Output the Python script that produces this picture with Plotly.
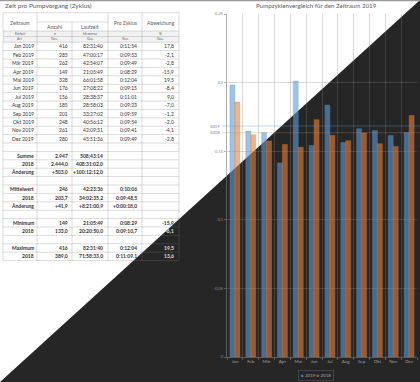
import plotly.graph_objects as go

W, H = 420, 382
FONT = "Lato"

# ---------------- data ----------------
months = ['Jan', 'Feb', 'Mär', 'Apr', 'Mai', 'Jun', 'Jul', 'Aug', 'Sep', 'Okt', 'Nov', 'Dez']
zeitraum = [m + ' 2019' for m in months]
anzahl = ['416', '285', '262', '149', '328', '176', '156', '185', '201', '248', '261', '280']
laufzeit = ['82:31:40', '47:00:17', '42:54:07', '21:05:49', '66:01:58', '27:08:22',
            '28:38:37', '28:58:03', '33:27:02', '40:56:12', '42:09:31', '45:51:36']
pro_zyklus = ['0:11:54', '0:09:53', '0:09:49', '0:08:29', '0:12:04', '0:09:15',
              '0:11:01', '0:09:23', '0:09:59', '0:09:54', '0:09:41', '0:09:49']
abweichung = ['17,8', '-2,1', '-2,8', '-15,9', '19,5', '-8,4', '9,0', '-7,0', '-1,2', '-2,0', '-4,1', '-2,8']

sum_labels = ['', 'Summe', '2018', 'Änderung', '', 'Mittelwert', '2018', 'Änderung', '',
              'Minimum', '2018', '', 'Maximum', '2018']
sum_anzahl = ['', '2.947', '2.444,0', '+503,0', '', '246', '203,7', '+41,9', '',
              '149', '133,0', '', '416', '389,0']
sum_laufzeit = ['', '508:43:14', '408:31:02,0', '+100:12:12,0', '', '42:23:36', '34:02:35,2',
                '+8:21:00,9', '', '21:05:49', '20:20:50,0', '', '82:31:40', '71:58:33,0']
sum_pro_zyklus = ['', '', '', '', '', '0:10:06', '0:09:48,5', '+0:00:18,0', '',
                  '0:08:29', '0:09:10,7', '', '0:12:04', '0:11:09,1']
sum_abweichung = ['', '', '', '', '', '', '', '', '', '-15,9', '-6,1', '', '19,5', '13,6']

header_top = ['Zeitraum', 'Anzahl', 'Laufzeit', 'Pro Zyklus', 'Abweichung']
unit_row = ['Einheit', 'n', 'hh:mm:ss', '', '%']
art_row = ['Art', 'Ges.', 'Ges.', 'Ges.', 'Ges.']

# chart series (hours per cycle)
chart_2018 = [0.1859, 0.162, 0.1575, 0.1548, 0.1529, 0.173, 0.1614, 0.1577, 0.1633, 0.1555, 0.1535, 0.176]
mean_2019_txt = '0:10:06'
mean_2018_txt = '0:09:48,5'


def to_hours(s):
    h, m, sec = s.split(':')
    return int(h) + int(m) / 60 + float(sec.replace(',', '.')) / 3600


chart_2019 = [to_hours(s) for s in pro_zyklus]
mean_2019 = to_hours(mean_2019_txt)
mean_2018 = to_hours(mean_2018_txt)

# ---------------- helpers ----------------
def px(x):
    return x / W


def py(y):
    return 1 - y / H


def is_dark(x, y):
    return x / W + y / H > 1


DARK_BG = '#262626'
LINE = 'rgba(128,128,128,0.35)'

shapes = []
annotations = []

# dark lower-right triangle
shapes.append(dict(type='path', xref='paper', yref='paper', path='M 1 1 L 1 0 L 0 0 Z',
                   fillcolor=DARK_BG, line=dict(width=0), layer='below'))

# ---------------- table ----------------
col_edges = [3, 37, 72, 108, 142, 179]
col_right = [36, 70, 105, 139, 176]
t_top, h_mid, h_bot, u_bot, d_top = 12.7, 22, 31, 36.5, 42.2
row_h = 8.4
n_rows = len(zeitraum) + len(sum_labels)
t_bot = d_top + row_h * n_rows

shapes.append(dict(type='rect', xref='paper', yref='paper', x0=px(col_edges[0]), x1=px(col_edges[-1]),
                   y0=py(h_bot), y1=py(d_top), fillcolor='#f2f2f2', line=dict(width=0), layer='below'))


def hline(y, x0, x1):
    shapes.append(dict(type='line', xref='paper', yref='paper', x0=px(x0), x1=px(x1), y0=py(y), y1=py(y),
                       line=dict(color=LINE, width=0.8), layer='below'))


def vline(x, y0, y1):
    shapes.append(dict(type='line', xref='paper', yref='paper', x0=px(x), x1=px(x), y0=py(y0), y1=py(y1),
                       line=dict(color=LINE, width=0.8), layer='below'))


for i, xe in enumerate(col_edges):
    vline(xe, h_mid if xe == 72 else t_top, t_bot)
hline(t_top, col_edges[0], col_edges[-1])
hline(h_mid, 37, 108)
for yy in [h_bot, u_bot]:
    hline(yy, col_edges[0], col_edges[-1])
for k in range(n_rows + 1):
    hline(d_top + row_h * k, col_edges[0], col_edges[-1])


def txt(x, y, s, size=5, color='#404040', anchor='center', bold=False):
    if bold:
        s = '<b>' + s + '</b>'
    annotations.append(dict(x=px(x), y=py(y), xref='paper', yref='paper', text=s, showarrow=False,
                            xanchor=anchor, yanchor='middle', font=dict(family=FONT, size=size, color=color)))


# titles
txt(3, 5.5, 'Zeit pro Pumpvorgang (Zyklus)', size=6.5, color='#595959', anchor='left')
txt(316, 5.5, 'Pumpzyklenvergleich für den Zeitraum 2019', size=6.2, color='#595959')

# header
HC = '#595959'
txt(20, 22.5, header_top[0], color=HC)
txt(54.5, 27, header_top[1], color=HC)
txt(90, 27, header_top[2], color=HC)
txt(125, 22.5, header_top[3], color=HC)
txt(160.5, 22.5, header_top[4], color=HC)
centers = [(col_edges[i] + col_edges[i + 1]) / 2 for i in range(5)]
for i in range(5):
    txt(centers[i], (h_bot + u_bot) / 2, unit_row[i], size=3.4, color=HC)
    txt(centers[i], (u_bot + d_top) / 2, art_row[i], size=3.4, color=HC)

# body rows
rows = []
for i in range(len(zeitraum)):
    rows.append(([zeitraum[i], anzahl[i], laufzeit[i], pro_zyklus[i], abweichung[i]], False))
for j in range(len(sum_labels)):
    rows.append(([sum_labels[j], sum_anzahl[j], sum_laufzeit[j], sum_pro_zyklus[j], sum_abweichung[j]], True))

for r, (vals, bold) in enumerate(rows):
    yc = d_top + row_h * (r + 0.5)
    for c, v in enumerate(vals):
        if not v:
            continue
        center_x = col_right[c] - len(v) * 1.35
        col = '#e0e0e0' if is_dark(center_x, yc) else '#333333'
        txt(col_right[c], yc, v, size=5, color=col, anchor='right', bold=bold)

# ---------------- chart ----------------
fig = go.Figure()
fig.add_bar(x=months, y=chart_2019, name='2019',
            marker=dict(color='rgba(91,155,213,0.6)', line=dict(color='rgba(91,155,213,0.5)', width=0.6)))
fig.add_bar(x=months, y=chart_2018, name='2018',
            marker=dict(color='rgba(237,125,49,0.6)', line=dict(color='rgba(237,125,49,0.5)', width=0.6)))

# average lines with labels
for val, lab, colr in [(mean_2019, '2019', 'rgba(91,155,213,0.55)'), (mean_2018, '2018', 'rgba(190,140,100,0.45)')]:
    shapes.append(dict(type='line', xref='paper', yref='y', x0=px(222), x1=1, y0=val, y1=val,
                       line=dict(color=colr, width=0.7), layer='above'))
    annotations.append(dict(x=px(222), y=val, xref='paper', yref='y', text=lab, showarrow=False,
                            xanchor='right', yanchor='middle', font=dict(family=FONT, size=4.2, color='#7f7f7f')))

# legend box (bottom centre)
annotations.append(dict(
    x=px(316), y=py(375), xref='paper', yref='paper', showarrow=False, xanchor='center', yanchor='middle',
    text="<span style='color:#4f7aa6'>■</span> 2019 <span style='color:#a55e30'>■</span> 2018",
    font=dict(family=FONT, size=4.5, color='#a6a6a6'), bordercolor='rgba(128,128,128,0.55)',
    borderwidth=0.6, borderpad=2.5))

# top gray strip
shapes.append(dict(type='line', xref='paper', yref='paper', x0=0, x1=1, y0=py(0.6), y1=py(0.6),
                   line=dict(color='#9a9a9a', width=1.5), layer='above'))

AX = 'rgba(128,128,128,0.6)'
GRID = 'rgba(128,128,128,0.3)'
fig.update_layout(
    width=W, height=H, margin=dict(l=0, r=0, t=0, b=0, pad=0),
    paper_bgcolor='white', plot_bgcolor='rgba(0,0,0,0)',
    showlegend=False, barmode='group', bargap=0.37, bargroupgap=0,
    font=dict(family=FONT),
    shapes=shapes, annotations=annotations,
    xaxis=dict(domain=[px(227), px(417)], type='category', tickson='boundaries', showgrid=True,
               gridcolor=GRID, gridwidth=0.7, showline=True, linecolor=AX, linewidth=0.8,
               ticks='outside', ticklen=2, tickcolor=AX, tickwidth=0.7, tickangle=0,
               tickfont=dict(size=4.5, color='#a0a0a0', family=FONT), automargin=False),
    yaxis=dict(domain=[py(357), py(14)], range=[0, 0.25], tick0=0, dtick=0.05, showgrid=True,
               gridcolor=GRID, gridwidth=0.7, showline=True, linecolor=AX, linewidth=0.8,
               ticks='outside', ticklen=2, tickcolor=AX, tickwidth=0.7, zeroline=False,
               tickfont=dict(size=4.2, color='#8c8c8c', family=FONT), automargin=False),
    hovermode=False,
)

fig.write_html("out.html", config={'displayModeBar': False},
               post_script="document.body.style.margin='0';")
